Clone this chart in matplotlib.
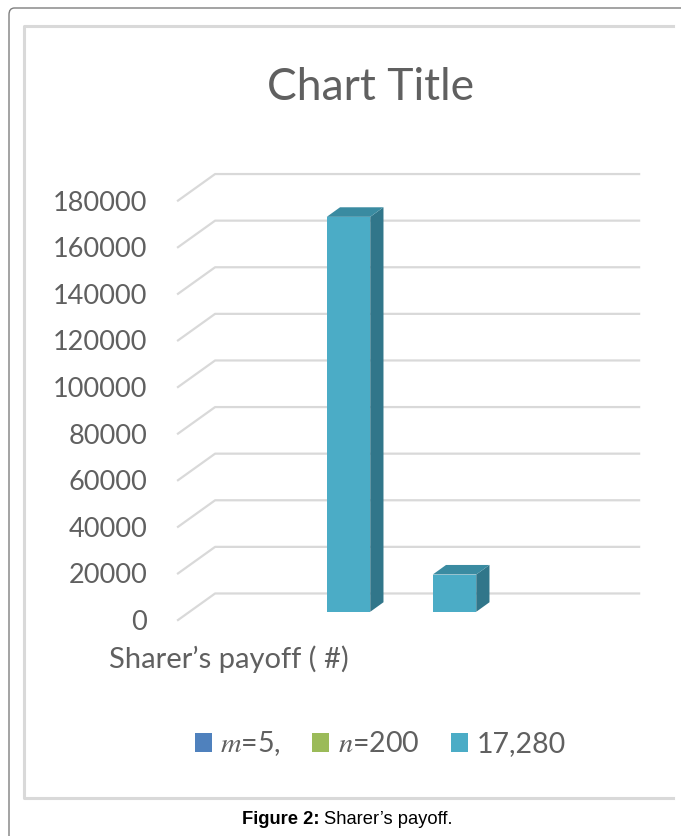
import matplotlib
matplotlib.use('Agg')
import matplotlib.pyplot as plt
from matplotlib.patches import Patch, Polygon, FancyBboxPatch
from matplotlib.lines import Line2D

W, H = 681, 836

# chart data
title = 'Chart Title'
category_label = 'Sharer\u2019s payoff ( #)'
ytick_values = [0, 20000, 40000, 60000, 80000, 100000, 120000, 140000, 160000, 180000]
series_names = [r'$m$=5,', r'$n$=200', '17,280']
series_colors = ['#4F81BD', '#9BBB59', '#4BACC6']
bar_values = [169500, 16000]
caption_bold = 'Figure 2:'
caption_rest = 'Sharer\u2019s payoff.'

plt.rcParams['font.family'] = ['Lato', 'DejaVu Sans']
plt.rcParams['mathtext.fontset'] = 'stix'
grey_text = '#606060'

# fake 3d geometry (x in category units, depth given in x / value units)
depth_x, depth_v = 0.35, 11400
bar_f = 0.31          # where the bars sit along the depth
bar_w = 0.41
bar_dx, bar_dv = 0.125, 4100
x_right = 4.0


def fig_xy(x, y):
    return x / W, 1 - y / H


fig = plt.figure(figsize=(W / 100, H / 100), dpi=100)

# page frame + chart area border
fig.patches.append(FancyBboxPatch(fig_xy(9, 900), 760 / W, 892 / H,
                                  boxstyle='round,pad=0,rounding_size=0.008',
                                  transform=fig.transFigure, facecolor='none',
                                  edgecolor='#7f7f7f', lw=1.0))
fig.lines.append(Line2D([673 / W, 23.5 / W, 23.5 / W, 673 / W],
                        [1 - 26 / H, 1 - 26 / H, 1 - 798 / H, 1 - 798 / H],
                        transform=fig.transFigure, color='#d9d9d9', lw=2.2))

ax = fig.add_axes([103.8 / W, 1 - 648 / H, (665.6 - 103.8) / W, (648 - 154) / H])
ax.set_xlim(-0.7, 4.6)
ax.set_ylim(-12000, 200000)
ax.axis('off')

# gridlines (front-left diagonal then along the back wall)
for t in ytick_values:
    ax.plot([0, depth_x, x_right + depth_x], [t, t + depth_v, t + depth_v],
            color='#d9d9d9', lw=1.6, zorder=1)
    ax.text(-0.29, t, f'{t}', ha='right', va='center_baseline',
            fontsize=19.5, color=grey_text)

# bars with side and top faces
base = bar_f * depth_v
for i, v in enumerate(bar_values):
    xc = i + 1.5 + bar_f * depth_x
    ax.bar(xc, v, width=bar_w, bottom=base, color=series_colors[2], zorder=3)
    xl, xr, top = xc - bar_w / 2, xc + bar_w / 2, base + v
    ax.add_patch(Polygon([(xr, base), (xr + bar_dx, base + bar_dv),
                          (xr + bar_dx, top + bar_dv), (xr, top)],
                         facecolor='#31768A', edgecolor='none', zorder=3))
    ax.add_patch(Polygon([(xl, top), (xr, top), (xr + bar_dx, top + bar_dv),
                          (xl + bar_dx, top + bar_dv)],
                         facecolor='#3A8BA1', edgecolor='none', zorder=3))

fig.text(*fig_xy(371, 100), title, ha='center', va='baseline',
         fontsize=32, color=grey_text)
fig.text(*fig_xy(229, 659), category_label, ha='center', va='center',
         fontsize=21, color=grey_text)

handles = [Patch(facecolor=c, edgecolor='none') for c in series_colors]
fig.legend(handles, series_names, loc='center', bbox_to_anchor=fig_xy(380, 744),
           ncol=3, frameon=False, fontsize=20.5, handlelength=0.6, handleheight=0.6,
           handletextpad=0.3, columnspacing=1.1, labelcolor=grey_text)

# figure caption
fig.text(*fig_xy(319, 820), caption_bold, ha='right', va='center',
         fontsize=13.2, fontweight='bold', family='Liberation Sans')
fig.text(*fig_xy(324, 820), caption_rest, ha='left', va='center',
         fontsize=13.2, family='Liberation Sans')

fig.savefig('out.png', dpi=100)
